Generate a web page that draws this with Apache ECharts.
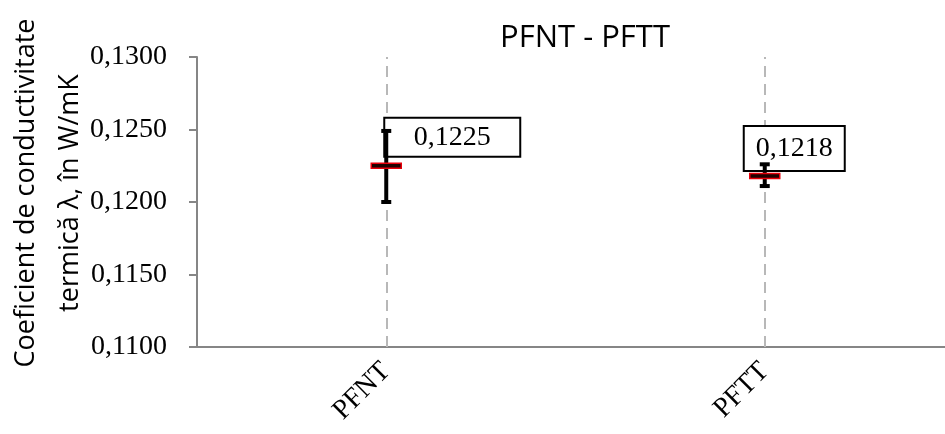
<!DOCTYPE html>
<html>
<head>
<meta charset="utf-8">
<script src="https://cdn.jsdelivr.net/npm/echarts@6/dist/echarts.min.js"></script>
<style>html,body{margin:0;padding:0;background:#fff}#c{width:945px;height:434px}</style>
</head>
<body>
<div id="c"></div>
<script>
const categories = ['PFNT', 'PFTT'];
const means = [0.1225, 0.1218];
const lows = [0.1200, 0.1211];
const highs = [0.1249, 0.1226];
const labelTexts = ['0,1225', '0,1218'];
const yTicks = [0.1100, 0.1150, 0.1200, 0.1250, 0.1300];

// label box layout relative to the mean point: [dx, dy, w, h]
const labelBoxes = [[-2, -48, 136, 39], [-21, -50, 101, 45]];

const chart = echarts.init(document.getElementById('c'));
const fmt = v => v.toFixed(4).replace('.', ',');

const rows = categories.map((c, i) => [i, means[i], lows[i], highs[i]]);

chart.setOption({
  animation: false,
  title: {
    text: 'PFNT - PFTT',
    left: 580, top: 18, textAlign: 'center',
    textStyle: { fontFamily: 'Open Sans', fontSize: 31, fontWeight: 'normal', color: '#000' }
  },
  grid: { left: 197, right: -9, top: 57, bottom: 87, containLabel: false, outerBoundsMode: 'none' },
  xAxis: {
    type: 'category',
    data: categories,
    axisLine: { lineStyle: { color: '#868686', width: 2 } },
    axisTick: { inside: true, length: 7, lineStyle: { color: '#868686', width: 2 } },
    axisLabel: { rotate: 45, margin: 20, fontFamily: 'Liberation Serif', fontSize: 28, color: '#000' }
  },
  yAxis: {
    type: 'value',
    min: yTicks[0], max: yTicks[yTicks.length - 1], interval: 0.005,
    name: 'Coeficient de conductivitate\ntermică λ, în W/mK',
    nameLocation: 'middle', nameRotate: 90, nameGap: 105, nameMoveOverlap: false,
    nameTextStyle: { fontFamily: 'Open Sans', fontSize: 27, color: '#000', lineHeight: 44, padding: [0, 0, 0, 18] },
    axisLine: { show: true, lineStyle: { color: '#868686', width: 2 } },
    axisTick: { show: true, length: 8, lineStyle: { color: '#868686', width: 2 } },
    axisLabel: { margin: 30, formatter: fmt, fontFamily: 'Liberation Serif', fontSize: 28, color: '#000' },
    splitLine: { show: false }
  },
  series: [
    {
      type: 'line', data: [], silent: true, z: 1,
      markLine: {
        symbol: 'none', silent: true, label: { show: false }, z: 1,
        lineStyle: { color: '#b8b8b8', type: [11, 7], width: 2 },
        data: categories.map(c => ({ xAxis: c }))
      }
    },
    {
      type: 'custom', z: 8,
      data: rows,
      renderItem: function (params, api) {
        const i = api.value(0);
        const p = api.coord([i, api.value(1)]);
        const b = labelBoxes[params.dataIndex];
        return {
          type: 'group',
          children: [
            { type: 'rect', shape: { x: p[0] + b[0], y: p[1] + b[1], width: b[2], height: b[3] },
              style: { fill: '#fff', stroke: '#000', lineWidth: 2 } },
            { type: 'text', x: p[0] + b[0] + b[2] / 2, y: p[1] + b[1] + b[3] / 2,
              style: { text: labelTexts[params.dataIndex], fill: '#000', font: '28px "Liberation Serif"',
                       align: 'center', verticalAlign: 'middle' } }
          ]
        };
      }
    },
    {
      type: 'custom', z: 10,
      data: rows,
      renderItem: function (params, api) {
        const i = api.value(0);
        const pm = api.coord([i, api.value(1)]);
        const pl = api.coord([i, api.value(2)]);
        const ph = api.coord([i, api.value(3)]);
        const x = pm[0];
        const st = { stroke: '#000', lineWidth: 4 };
        return {
          type: 'group',
          children: [
            { type: 'line', shape: { x1: x, y1: ph[1], x2: x, y2: pl[1] }, style: st },
            { type: 'line', shape: { x1: x - 5, y1: ph[1], x2: x + 5, y2: ph[1] }, style: st },
            { type: 'line', shape: { x1: x - 5, y1: pl[1], x2: x + 5, y2: pl[1] }, style: st },
            { type: 'rect', shape: { x: x - 15, y: pm[1] - 2.5, width: 30, height: 5 },
              style: { fill: '#200000', stroke: '#e8000b', lineWidth: 1.5 } }
          ]
        };
      }
    }
  ]
});
</script>
</body>
</html>
